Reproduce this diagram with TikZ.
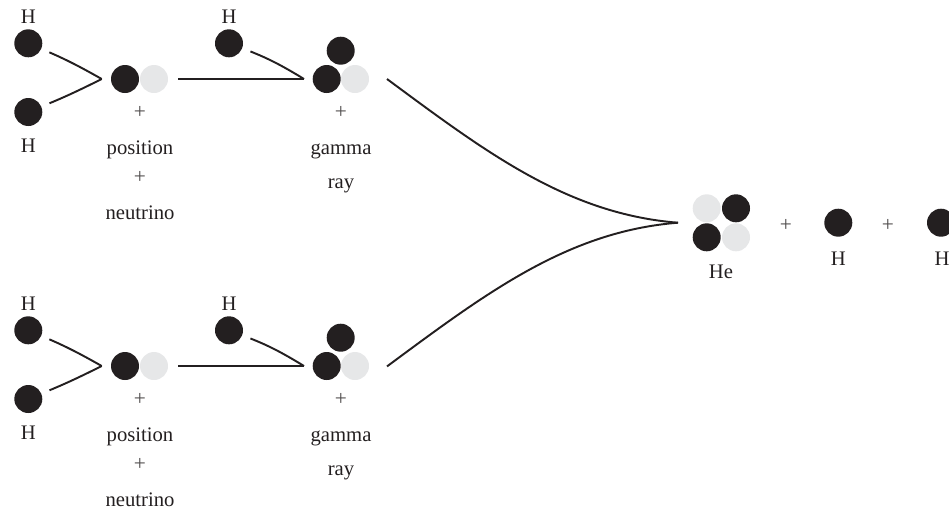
\documentclass[tikz,border=0pt]{standalone}
\usepackage{fontspec}
\setmainfont{Liberation Serif}
\definecolor{nucdark}{HTML}{231F20}
\definecolor{nuclight}{HTML}{E6E7E8}
\begin{document}
\begin{tikzpicture}[x=0.75pt,y=-0.75pt,
  pro/.style={circle,fill=nucdark,draw=none,minimum size=21pt,inner sep=0pt},
  neu/.style={circle,fill=nuclight,draw=none,minimum size=21pt,inner sep=0pt},
  lbl/.style={anchor=base,inner sep=0pt,text=nucdark,font=\fontsize{15.5}{18}\selectfont},
  plus/.style={anchor=base,inner sep=0pt,text=nucdark!80,font=\fontsize{16}{18}\selectfont},
  link/.style={draw=nucdark,line width=1.45pt}]
\useasboundingbox (0,0) rectangle (949,515);

% ---------- two identical branches ----------
\foreach \dy/\p in {0/a,287/b}{
  \begin{scope}[yshift=-\dy*0.75pt]
    \node[pro] (\p h1) at (28.3,43.3) {};
    \node[pro] (\p h2) at (28.3,112) {};
    \node[lbl] (\p t1) at (28.3,23.3) {H};
    \node[lbl] (\p t2) at (28.3,152.5) {H};
    \coordinate (\p j1) at (101.7,79);
    \node[pro] (\p d1) at (125,79) {};
    \node[neu] (\p d2) at (154,79) {};
    \node[plus] (\p p1) at (140,118) {+};
    \node[lbl] (\p t3) at (140,154) {position};
    \node[plus] (\p p2) at (140,183) {+};
    \node[lbl] (\p t4) at (140,219.5) {neutrino};
    \node[pro] (\p h3) at (229,43.3) {};
    \node[lbl] (\p t5) at (229,23.3) {H};
    \coordinate (\p j2) at (304,79);
    \node[pro] (\p e1) at (340.7,50.7) {};
    \node[pro] (\p e2) at (326.7,79) {};
    \node[neu] (\p e3) at (355,79) {};
    \node[plus] (\p p3) at (341,118) {+};
    \node[lbl] (\p t6) at (341,154) {gamma};
    \node[lbl] (\p t7) at (341,188) {ray};
    \draw[link,shorten <=6.5pt] (\p h1) to[bend left=3] (\p j1);
    \draw[link,shorten <=6.5pt] (\p h2) to[bend right=2] (\p j1);
    \draw[link,shorten <=7.5pt] (\p d2) -- (\p j2);
    \draw[link,shorten <=6.5pt] (\p h3) to[bend left=5] (\p j2);
  \end{scope}
}

% ---------- merge ----------
\coordinate (sa) at (387,79);
\coordinate (sb) at (387,366.4);
\coordinate (m) at (678,222.7);
\draw[link] (sa) .. controls (487,153) and (568,214) .. (m);
\draw[link] (sb) .. controls (487,292.4) and (568,231.4) .. (m);

% ---------- products ----------
\node[neu] (he1) at (706.7,208.3) {};
\node[neu] (he4) at (736,237.3) {};
\node[pro] (he2) at (736,208.3) {};
\node[pro] (he3) at (706.7,237.3) {};
\node[lbl] (helbl) at (721,278) {He};
\node[plus] (q1) at (786,231) {+};
\node[pro] (r1) at (838.3,222.7) {};
\node[lbl] (r1lbl) at (838.3,265) {H};
\node[plus] (q2) at (888,231) {+};
\node[pro] (r2) at (941,222.7) {};
\node[lbl] (r2lbl) at (942,265) {H};
\end{tikzpicture}
\end{document}
